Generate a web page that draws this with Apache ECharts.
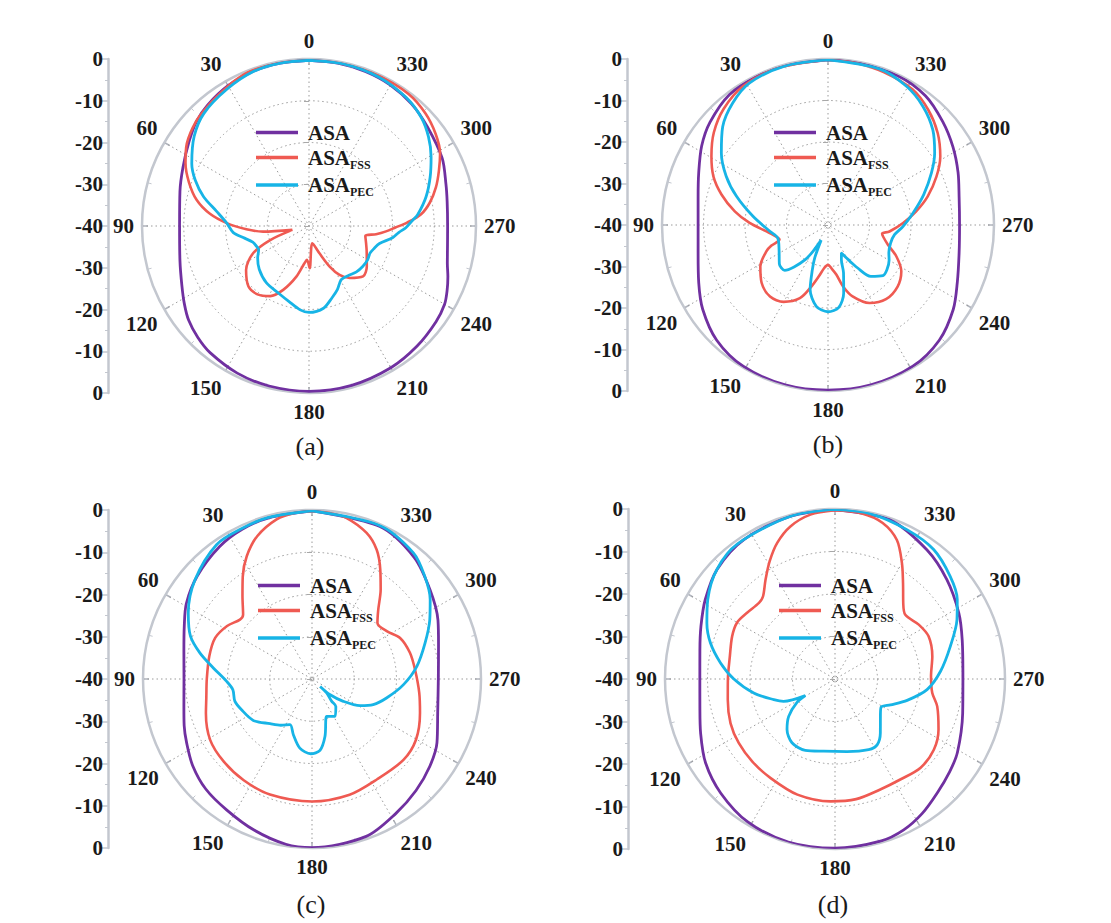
<!DOCTYPE html>
<html><head><meta charset="utf-8">
<script src="https://cdn.jsdelivr.net/npm/echarts@6/dist/echarts.min.js"></script>
<style>html,body{margin:0;padding:0;background:#fff}#c{width:1111px;height:923px}</style>
</head><body><div id="c"></div>
<script>
// ---- names and tick labels ----
const seriesNames = ['ASA', 'ASA_FSS', 'ASA_PEC'];
const panelLabels = ['(a)', '(b)', '(c)', '(d)'];
const scaleTickLabels = ['0', '-10', '-20', '-30', '-40', '-30', '-20', '-10', '0']; // bottom -> top

// ---- data: [angle (deg), gain (dB)] ----
const a_ASA = [[0,-0.3],[10,-0.4],[20,-0.6],[30,-1.2],[40,-2.2],[47,-3.2],[55,-4.9],[65,-6.7],[75,-8.0],[90,-9.0],[105,-8.0],[115,-6.4],[122,-4.8],[128,-3.4],[135,-2.3],[142,-1.5],[154,-0.8],[166,-0.5],[180,-0.4],[195,-0.5],[210,-0.8],[222,-1.3],[233,-1.9],[240,-2.5],[245,-3.5],[250,-4.6],[255,-5.7],[262,-6.5],[270,-6.8],[280,-6.4],[287,-5.7],[297,-4.2],[310,-3.0],[320,-1.8],[330,-1.0],[340,-0.6],[350,-0.4],[360,-0.3]];
const a_FSS = [[0,-0.3],[10,-0.3],[20,-0.3],[27,-0.9],[34,-1.8],[40,-2.4],[47,-3.1],[56,-4.7],[63,-6.8],[70,-9.4],[77,-12.4],[83,-16.1],[88,-20.3],[93,-25.0],[97,-28.9],[103,-35.9],[110,-30.0],[116,-25.1],[125,-21.6],[135,-19.5],[143,-19.5],[151,-20.8],[158,-23.5],[166,-27.5],[173,-31.0],[176.6,-31.9],[181,-29.9],[191,-35.8],[201,-33.0],[207,-29.1],[212,-26.2],[218,-24.2],[227,-22.3],[235,-23.1],[247,-25.0],[253,-25.7],[260,-26.3],[263,-23.8],[266,-21.5],[269,-19.3],[272,-16.5],[276,-13.0],[281,-10.5],[287,-8.2],[293,-6.2],[299,-4.1],[306,-2.5],[314,-1.2],[323,-0.4],[335,-0.3],[348,-0.3],[360,-0.3]];
const a_PEC = [[0,-0.3],[10,-0.4],[20,-0.7],[31,-1.8],[43,-3.1],[52,-5.1],[62,-8.2],[68,-10.6],[74.5,-13.8],[81,-17.6],[88,-20.3],[95,-21.8],[100,-24.0],[106,-26.0],[111,-26.5],[115,-26.7],[122,-25.5],[131,-24.2],[143,-23.0],[156,-22.3],[165,-21.3],[174,-19.8],[180,-19.3],[190,-20.0],[198,-22.0],[204,-23.3],[211,-25.0],[219,-24.8],[226,-24.2],[233,-23.9],[240,-23.8],[246,-24.0],[251,-23.5],[256,-22.6],[262,-19.8],[266,-18.4],[269,-16.8],[273,-15.2],[276,-13.8],[284,-11.1],[292,-8.7],[299.5,-6.4],[306.7,-4.3],[314,-2.6],[323,-1.4],[335,-0.6],[348,-0.3],[360,-0.3]];

const b_ASA = [[0,-0.2],[15,-0.2],[25,-0.3],[37,-0.6],[49,-2.3],[58,-4.1],[68,-6.4],[78,-8.0],[90,-8.7],[102,-8.0],[114,-5.9],[124,-3.6],[136,-1.4],[149,-0.3],[165,-0.1],[180,-0.2],[195,-0.1],[211,-0.3],[224,-1.4],[236,-3.6],[246,-5.9],[258,-7.7],[270,-8.3],[282,-7.7],[292,-6.2],[302,-4.5],[312,-2.8],[323,-1.0],[335,-0.3],[350,-0.2],[360,-0.2]];
const b_FSS = [[0,-0.2],[18,-0.3],[31.5,-0.8],[42,-2.4],[51,-4.6],[59.5,-7.4],[67,-10.0],[74,-13.3],[81.7,-17.3],[88.5,-21.1],[96,-25.1],[103,-27.3],[106.7,-27.8],[110,-25.5],[113,-23.9],[121.4,-20.9],[131,-18.8],[141,-17.8],[150,-18.6],[159,-21.1],[164.5,-24.4],[170,-27.5],[175,-29.6],[180,-30.4],[185,-29.4],[189.5,-27.9],[194,-24.6],[199,-21.8],[208,-18.7],[218,-17.3],[228.5,-17.6],[237.7,-19.1],[245.4,-21.9],[251.8,-24.8],[258,-26.4],[261,-26.8],[264,-25.1],[271.5,-21.9],[278.8,-18.5],[286,-15.0],[294,-11.4],[301.4,-8.3],[310,-5.5],[319,-3.2],[328,-1.5],[340,-0.8],[350,-0.4],[360,-0.2]];
const b_PEC = [[0,-0.2],[15,-0.3],[29,-0.9],[38,-2.7],[47,-5.3],[56,-9.0],[64.4,-12.8],[72.6,-16.9],[83.4,-21.8],[96.2,-25.9],[104.6,-27.5],[116.7,-26.8],[128.6,-25.0],[136.3,-24.9],[141,-27.0],[146.7,-30.0],[150.3,-32.7],[155.6,-36.0],[158,-31.5],[160.7,-28.6],[164.5,-23.9],[171.8,-20.2],[180,-19.1],[187.5,-20.0],[193,-23.2],[198,-27.9],[201,-31.0],[205.5,-32.5],[210,-30.5],[214.5,-27.5],[219.8,-23.9],[227.4,-22.0],[233,-22.2],[240,-23.0],[245.6,-23.9],[253.9,-24.3],[261.7,-23.8],[269,-21.9],[278,-19.3],[287.6,-15.8],[296.7,-12.1],[304,-9.0],[312.2,-5.9],[321.3,-3.4],[330.5,-1.6],[341.8,-0.4],[360,-0.2]];

const c_ASA = [[0,-0.2],[15,-0.5],[25,-0.9],[35,-1.8],[48,-3.5],[59,-5.3],[67.6,-7.3],[78,-9.0],[90,-9.7],[102,-9.0],[110,-7.8],[117,-6.7],[126,-5.1],[136,-3.8],[147,-3.0],[159,-1.7],[171,-0.4],[180,-0.1],[199,-0.6],[212,-2.5],[223,-3.9],[233.5,-5.3],[243,-6.8],[255,-9.2],[270,-10.1],[285,-9.0],[295,-7.1],[307,-5.0],[320,-2.4],[336,-0.5],[360,-0.2]];
const c_FSS = [[0,-0.3],[6,-0.5],[12.5,-1.3],[21,-3.8],[28,-7.1],[34,-10.7],[40,-14.4],[47,-17.7],[50.5,-17.9],[58,-16.3],[67,-15.1],[77.5,-15.1],[90,-15.1],[100,-14.6],[108,-13.6],[121,-11.9],[133,-11.4],[146,-11.1],[160,-10.9],[180,-11.0],[198,-11.2],[213,-11.7],[228.5,-11.1],[239.7,-11.5],[252.5,-13.2],[262.6,-14.4],[275,-15.5],[285,-16.0],[295,-17.0],[302.6,-19.0],[310.6,-19.6],[316.3,-17.3],[322.5,-13.3],[328,-9.5],[333.4,-5.8],[339.5,-3.1],[348,-1.0],[354,-0.5],[360,-0.3]];
const c_PEC = [[0,-0.2],[15,-0.4],[25,-0.7],[35.4,-1.0],[49.7,-3.7],[61.9,-6.8],[70.6,-9.5],[77,-12.8],[83.6,-16.5],[91.6,-19.8],[97.7,-21.1],[106,-21.0],[113.6,-21.8],[125.2,-23.0],[136.8,-25.5],[146,-26.8],[154.3,-28.0],[161.5,-26.1],[170,-23.4],[179,-22.3],[186.4,-23.0],[192.8,-26.1],[201.4,-30.5],[211.6,-29.6],[221,-31.4],[221.5,-33.0],[226.3,-35.2],[227.5,-37.4],[229,-34.3],[234.5,-30.9],[241,-27.0],[247.3,-24.3],[255.7,-21.8],[266.5,-18.3],[276.9,-15.0],[287.7,-11.9],[296.7,-8.8],[303.9,-6.3],[312.3,-3.9],[321.2,-1.7],[336.4,-0.3],[360,-0.2]];

const d_ASA = [[0,-0.2],[15,-0.3],[33,-0.8],[47,-2.1],[58.5,-4.2],[68.5,-6.1],[78,-7.5],[90,-8.2],[102,-7.5],[112,-5.9],[123,-3.7],[135,-2.0],[148.6,-0.6],[164,-0.1],[180,-0.2],[196,-0.4],[204.5,-1.0],[213,-2.3],[222,-4.0],[231,-5.3],[239,-6.4],[255,-8.9],[270,-9.9],[287,-8.7],[298,-7.0],[311.6,-4.8],[324.6,-2.7],[341,-0.4],[360,-0.2]];
const d_FSS = [[0,-0.3],[8.5,-0.9],[16.3,-2.6],[23,-5.2],[29,-8.3],[35,-11.5],[41,-14.2],[45,-14.7],[53,-14.1],[60,-13.4],[67.5,-13.8],[78,-14.7],[90,-14.8],[101,-14.3],[113,-13.3],[123.6,-12.8],[135,-12.5],[147,-12.2],[162,-11.4],[178,-11.2],[190,-11.3],[202,-11.9],[213,-11.8],[224,-11.0],[234.4,-11.4],[244,-12.9],[255,-15.1],[262,-16.9],[271.6,-17.4],[283,-16.5],[294.5,-15.8],[303,-16.5],[312.4,-17.6],[318,-16.0],[324.7,-12.3],[330,-8.5],[336,-4.2],[343,-1.6],[351,-0.5],[360,-0.3]];
const d_PEC = [[0,-0.1],[15,-0.3],[35.8,-0.8],[47.2,-2.1],[58,-4.7],[66.4,-7.1],[73.9,-9.5],[82,-12.8],[90,-16.2],[99.8,-20.6],[108.6,-24.8],[113.5,-26.8],[119.3,-32.0],[121.6,-29.5],[128.9,-26.0],[136.5,-23.6],[146,-21.9],[157.4,-21.8],[171,-22.8],[189.4,-22.7],[205.5,-21.6],[212.6,-21.6],[220,-23.4],[231.8,-26.4],[238.7,-27.3],[245,-25.6],[253.5,-22.3],[263.4,-18.2],[274.2,-15.1],[285.8,-11.8],[295.9,-8.1],[303,-5.7],[311.7,-3.7],[322.7,-1.7],[334.3,-1.0],[348,-0.2],[360,-0.1]];

// ---- layout / style (not data) ----
const FONT = '"Liberation Serif", "Times New Roman", serif';
const colors = ['#7030a0', '#ef5a52', '#17b4e6'];
const widths = [2.8, 2.6, 2.8];
const panels = [
  { data: [a_ASA, a_FSS, a_PEC], center: [309, 226], radius: 167, scaleX: 108, cap: [310, 446], legend: [251, 117] },
  { data: [b_ASA, b_FSS, b_PEC], center: [828, 225], radius: 166, scaleX: 627, cap: [828, 444], legend: [769, 117] },
  { data: [c_ASA, c_FSS, c_PEC], center: [312, 679], radius: 169, scaleX: 108, cap: [311, 904], legend: [253, 570] },
  { data: [d_ASA, d_FSS, d_PEC], center: [835, 679], radius: 170, scaleX: 628, cap: [833, 904], legend: [774, 570] }
];

const grayAxis = '#c3c7cf';
const legendFormatter = (name) => {
  const parts = name.split('_');
  return parts.length > 1 ? '{m|' + parts[0] + '}{s|' + parts[1] + '}' : '{m|' + parts[0] + '}';
};

const option = {
  backgroundColor: '#ffffff',
  animation: false,
  polar: panels.map(p => ({ center: p.center, radius: p.radius })),
  angleAxis: panels.map((p, i) => ({
    polarIndex: i, type: 'value', min: 0, max: 360, interval: 30,
    startAngle: 90, clockwise: false,
    axisLine: { lineStyle: { color: grayAxis, width: 2.5 } },
    axisTick: { show: true, inside: true, length: 6, lineStyle: { color: '#b0b4bd', width: 1.5 } },
    minorTick: { show: true, splitNumber: 2, length: 4, lineStyle: { color: '#c3c7cf', width: 1 } },
    axisLabel: { margin: 8, fontFamily: FONT, fontWeight: 'bold', fontSize: 21, color: '#1a1a1a' },
    splitLine: { show: true, lineStyle: { type: [1.5, 3], color: '#9a9a9a', width: 1 } }
  })),
  radiusAxis: panels.map((p, i) => ({
    polarIndex: i, type: 'value', min: -40, max: 0, interval: 10,
    axisLine: { show: false },
    axisTick: { show: true, length: 5, lineStyle: { color: '#a8a8a8' } },
    axisLabel: { show: false },
    splitLine: { show: true, lineStyle: { type: [1.5, 3], color: '#9a9a9a', width: 1 } }
  })),
  grid: panels.map(p => ({ left: p.scaleX, top: p.center[1] - p.radius, height: 2 * p.radius, width: 10 })),
  xAxis: panels.map((p, i) => ({ gridIndex: i, type: 'value', show: false, min: 0, max: 1 })),
  yAxis: panels.map((p, i) => ({
    gridIndex: i, type: 'value', min: -40, max: 40, interval: 10, position: 'left',
    axisLine: { show: true, lineStyle: { color: grayAxis, width: 2.5 } },
    axisTick: { show: true, length: 6, lineStyle: { color: grayAxis, width: 1.5 } },
    minorTick: { show: true, splitNumber: 2, length: 3, lineStyle: { color: grayAxis, width: 1 } },
    splitLine: { show: false },
    axisLabel: {
      margin: 5, fontFamily: FONT, fontWeight: 'bold', fontSize: 21, color: '#1a1a1a',
      formatter: (v) => scaleTickLabels[Math.round((v + 40) / 10)]
    }
  })),
  legend: panels.map(p => ({
    data: seriesNames, orient: 'vertical', left: p.legend[0], top: p.legend[1],
    icon: 'rect', itemWidth: 42, itemHeight: 3.5, itemGap: 4, selectedMode: false,
    formatter: legendFormatter,
    textStyle: {
      rich: {
        m: { fontFamily: FONT, fontWeight: 'bold', fontSize: 21, color: '#1a1a1a', lineHeight: 26, padding: [0, 0, 0, 5] },
        s: { fontFamily: FONT, fontWeight: 'bold', fontSize: 12, color: '#1a1a1a', lineHeight: 12, verticalAlign: 'bottom' }
      }
    }
  })),
  graphic: panels.map((p, i) => ({
    type: 'text', x: p.cap[0], y: p.cap[1],
    style: { text: panelLabels[i], align: 'center', verticalAlign: 'middle', fontFamily: FONT, fontSize: 26, fill: '#1a1a1a' }
  })),
  series: []
};

panels.forEach((p, i) => {
  p.data.forEach((arr, k) => {
    option.series.push({
      type: 'line', name: seriesNames[k], coordinateSystem: 'polar', polarIndex: i,
      data: arr.map(([ang, db]) => [db, ang]),
      symbol: 'none', smooth: 0.3, z: 3 + k,
      lineStyle: { color: colors[k], width: widths[k] },
      itemStyle: { color: colors[k] }
    });
  });
});

const chart = echarts.init(document.getElementById('c'), null, { renderer: 'svg' });
chart.setOption(option);
</script>
</body></html>
